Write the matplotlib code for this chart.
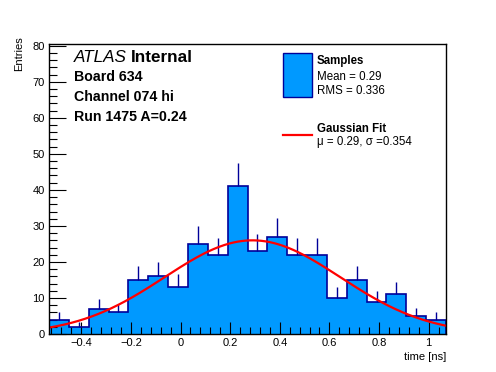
import numpy as np
import matplotlib
matplotlib.use("Agg")
import matplotlib.pyplot as plt
from matplotlib.patches import Rectangle
from matplotlib.lines import Line2D
from matplotlib.ticker import MultipleLocator

plt.rcParams['font.family'] = ['Liberation Sans', 'DejaVu Sans']

# histogram data: 20 bins of 0.08 ns from -0.53 to 1.07
bin_lo, bin_hi, n_bins = -0.53, 1.07, 20
counts = [4, 2, 7, 6, 15, 16, 13, 25, 22, 41, 23, 27, 22, 22, 10, 15, 9, 11, 5, 4]

# gaussian fit parameters
fit_amp = 26.0
fit_mu = 0.29
fit_sigma = 0.354

header_lines = ["Board 634", "Channel 074 hi", "Run 1475 A=0.24"]
sample_stats = ["Mean = 0.29", "RMS = 0.336"]
fit_label = "\u03bc = 0.29, \u03c3 =0.354"

W, H = 496, 372
fill_col = '#0099ff'
edge_col = '#000099'


def fx(px):
    return px / W


def fy(py):
    return 1 - py / H


fig = plt.figure(figsize=(W / 100, H / 100), dpi=100)
ax = fig.add_axes([fx(49), fy(334), fx(446) - fx(49), fy(44) - fy(334)])

edges = np.linspace(bin_lo, bin_hi, n_bins + 1)
centers = 0.5 * (edges[:-1] + edges[1:])
counts = np.array(counts, dtype=float)

ax.stairs(counts, edges, fill=True, color=fill_col, zorder=1)
# upward error bars (lower halves hidden behind the fill in the original)
ax.vlines(centers, counts, counts + np.sqrt(counts), color=edge_col, lw=1.0, zorder=2)
ax.stairs(counts, edges, fill=False, color=edge_col, lw=1.2, zorder=3)

xs = np.linspace(bin_lo, bin_hi, 300)
ax.plot(xs, fit_amp * np.exp(-0.5 * ((xs - fit_mu) / fit_sigma) ** 2),
        color='red', lw=1.6, zorder=4)

ax.set_xlim(bin_lo, bin_hi)
ax.set_ylim(0, 80.5)
ax.xaxis.set_major_locator(MultipleLocator(0.2))
ax.xaxis.set_minor_locator(MultipleLocator(0.04))
ax.yaxis.set_major_locator(MultipleLocator(10))
ax.yaxis.set_minor_locator(MultipleLocator(2))
ax.tick_params(which='both', direction='in', top=False, right=False, labelsize=8, pad=3)
ax.tick_params(which='major', length=9, width=0.8)
ax.tick_params(which='minor', length=5, width=0.8)
ax.tick_params(axis='y', which='major', length=12)
ax.tick_params(axis='y', which='minor', length=6)
ax.set_xticks([-0.4, -0.2, 0, 0.2, 0.4, 0.6, 0.8, 1.0])
ax.set_xticklabels(['\u22120.4', '\u22120.2', '0', '0.2', '0.4', '0.6', '0.8', '1'])
for s in ax.spines.values():
    s.set_linewidth(1.0)
    s.set_zorder(5)

fig.text(fx(19), fy(36), "Entries", rotation=90, ha='center', va='top', fontsize=8)
fig.text(fx(446), fy(360), "time [ns]", ha='right', va='baseline', fontsize=8)

# ATLAS label
t = fig.text(fx(74), fy(62.5), "ATLAS", style='italic', fontsize=12.3, va='baseline')
fig.canvas.draw()
bb = t.get_window_extent()
fig.text(bb.x1 / W + fx(4), fy(62.5), "Internal", weight='bold', fontsize=12.3, va='baseline')
for i, line in enumerate(header_lines):
    fig.text(fx(74), fy(81 + 20 * i), line, weight='bold', fontsize=10.2, va='baseline')

# legend
fig.patches.append(Rectangle((fx(283), fy(97)), fx(312) - fx(283), fy(53) - fy(97),
                             transform=fig.transFigure, facecolor=fill_col,
                             edgecolor=edge_col, lw=1.0))
fig.text(fx(317), fy(64), "Samples", weight='bold', fontsize=8.3, va='baseline')
fig.text(fx(317), fy(80.5), sample_stats[0], fontsize=8.3, va='baseline')
fig.text(fx(317), fy(93.5), sample_stats[1], fontsize=8.3, va='baseline')
fig.lines.append(Line2D([fx(283), fx(312)], [fy(135), fy(135)],
                        transform=fig.transFigure, color='red', lw=1.6))
fig.text(fx(317), fy(132), "Gaussian Fit", weight='bold', fontsize=8.3, va='baseline')
fig.text(fx(317), fy(145), fit_label, fontsize=8.3, va='baseline')

fig.savefig("out.png", dpi=100, facecolor='white')
